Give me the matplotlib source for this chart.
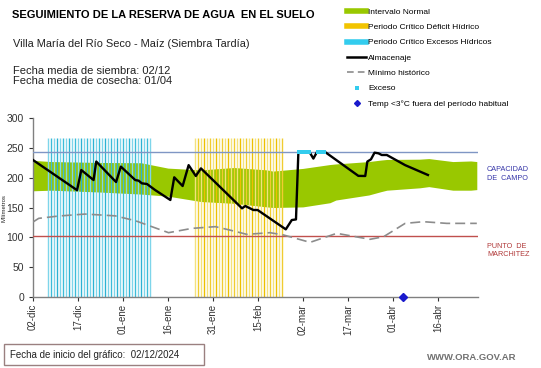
import matplotlib
matplotlib.use("Agg")
import matplotlib.pyplot as plt
from matplotlib.lines import Line2D
from matplotlib.patches import Rectangle
import numpy as np

plt.rcParams['font.family'] = ['Liberation Sans', 'DejaVu Sans']

# ---------------- data ----------------
tick_days = [0, 15, 30, 45, 60, 75, 90, 105, 120, 135]
tick_labels = ['02-dic', '17-dic', '01-ene', '16-ene', '31-ene', '15-feb',
               '02-mar', '17-mar', '01-abr', '16-abr']

capacidad_campo = 243
punto_marchitez = 102

# Intervalo normal (band)
band_days  = [0, 6, 22, 36, 45, 56, 67, 78, 80, 90, 99, 101, 112, 116, 118, 129, 132, 140, 146, 148]
band_upper = [229, 227, 225.5, 225, 216, 213, 217, 213, 211, 215.5, 222, 223, 227, 229.5, 230.5, 231, 232, 227, 228, 227]
band_lower = [178, 179, 176, 172.5, 169, 160, 157, 151, 150, 151, 158, 162.5, 171, 176.5, 179, 183, 185, 179, 179, 180]

# Almacenaje
alm_days = [0, 14.7, 16.1, 20.2, 21.1, 27.7, 29.3, 34.1, 35.2, 36.3, 38.0, 40.8,
            45.8, 47.1, 49.9, 51.9, 54.3, 56.0, 69.7, 70.8, 73.5, 74.9, 84.3,
            86.3, 87.7, 88.5, 92.2, 93.5, 94.7, 97.4, 108.5, 110.8, 111.5, 112.7,
            113.9, 115.2, 116.3, 118.0, 124.1, 131.7]
alm_vals = [229.6, 179, 212.8, 196, 227, 192.7, 218.5, 196, 195, 190.5, 189.4, 179,
            162.6, 200.6, 186, 221, 202.8, 215.6, 148.6, 152.5, 145.8, 145.8, 113.4,
            129, 130, 243, 243, 232, 243, 243, 203, 202.8, 227, 230.7,
            241.9, 240.8, 238, 238, 221, 204.5]

# Minimo historico
min_days = [0, 1.9, 8.5, 17.4, 27.4, 34.1, 45.2, 53.0, 60.8, 65.8, 71.3, 79.0,
            83.5, 92.4, 101.3, 112.4, 116.9, 124.1, 130.2, 138.0, 148]
min_vals = [125.7, 131.8, 135.7, 139, 136, 127.9, 107.8, 115, 117.9, 112, 105, 107.8,
            104, 91.6, 106.7, 96.7, 101, 123.4, 126.2, 123.4, 123.4]

# Periodos criticos (one bar per day)
exceso_hidrico_days = list(range(5, 40))
deficit_hidrico_days = list(range(54, 84))
periodo_altura = 267

# Exceso points (on capacity)
exceso_days = [88.7, 89.4, 90.1, 90.8, 91.5, 92.1, 95.0, 95.7, 96.4, 97.1]
exceso_vals = [243] * len(exceso_days)

# Temp < 3 C fuera del periodo habitual
temp_days = [123.4]
temp_vals = [0]

# ---------------- figure ----------------
W, H = 541, 368
fig = plt.figure(figsize=(W / 100, H / 100), dpi=100)
ax = fig.add_axes([33 / W, 1 - 297 / H, (478 - 33) / W, (297 - 118) / H])

green = '#99c800'
cyan_cols = ['#7ed5ea', '#3cbcd8', '#7ed5ea', '#2cb2d2']
yel_cols = ['#f4e27c', '#f0cc30', '#f4e27c', '#ecc000']

ax.fill_between(band_days, band_lower, band_upper, color=green, lw=0, zorder=1)

ax.vlines(exceso_hidrico_days, 0, periodo_altura,
          colors=[cyan_cols[i % 4] for i in range(len(exceso_hidrico_days))],
          lw=1.0, zorder=2)
ax.vlines(deficit_hidrico_days, 0, periodo_altura,
          colors=[yel_cols[i % 4] for i in range(len(deficit_hidrico_days))],
          lw=1.0, zorder=2)

ax.axhline(capacidad_campo, color='#7f96c4', lw=1.0, zorder=3)
ax.axhline(punto_marchitez, color='#c0504d', lw=1.0, zorder=3)

ax.plot(min_days, min_vals, color='#8c8c8c', lw=1.2, dashes=(6, 3), zorder=4)
ax.plot(alm_days, alm_vals, color='black', lw=1.7, zorder=5)
ax.plot(exceso_days, exceso_vals, ls='none', marker='s', ms=2.8, mew=0, color='#33ccee', zorder=6)
ax.plot(temp_days, temp_vals, ls='none', marker='D', ms=4, color='#1a1acc', zorder=7,
        clip_on=False)

ax.set_xlim(0, 148.4)
ax.set_ylim(0, 300)
ax.set_yticks([0, 50, 100, 150, 200, 250, 300])
ax.set_xticks(tick_days)
ax.set_xticklabels(tick_labels, rotation=90, fontsize=7, color='#333333')
ax.tick_params(axis='y', labelsize=7.5, colors='#333333', length=3, width=0.8)
ax.tick_params(axis='x', length=3, width=0.8, colors='#333333', pad=2)
for s in ['top', 'right']:
    ax.spines[s].set_visible(False)
for s in ['left', 'bottom']:
    ax.spines[s].set_color('#808080')
    ax.spines[s].set_linewidth(1.0)
ax.set_facecolor('white')

fig.text(4.5 / W, 1 - 208 / H, 'Milímetros', rotation=90, fontsize=4.3, va='center', ha='center',
         color='#222222')

# titles
fig.text(12 / W, 1 - 15 / H, 'SEGUIMIENTO DE LA RESERVA DE AGUA  EN EL SUELO', fontsize=8,
         fontweight='bold', va='center', ha='left')
fig.text(13 / W, 1 - 44 / H, 'Villa María del Río Seco - Maíz (Siembra Tardía)', fontsize=7.9,
         va='center', ha='left', color='#222222')
fig.text(13 / W, 1 - 70.5 / H, 'Fecha media de siembra: 02/12', fontsize=8,
         va='center', ha='left', color='#222222')
fig.text(13 / W, 1 - 81.5 / H, 'Fecha media de cosecha: 01/04', fontsize=8,
         va='center', ha='left', color='#222222')

# right labels
fig.text(487 / W, 1 - 170 / H, 'CAPACIDAD', fontsize=5.2, color='#3535a8', va='center')
fig.text(487 / W, 1 - 179 / H, 'DE  CAMPO', fontsize=5.2, color='#3535a8', va='center')
fig.text(487 / W, 1 - 246.5 / H, 'PUNTO  DE', fontsize=5.2, color='#b03838', va='center')
fig.text(487 / W, 1 - 255 / H, 'MARCHITEZ', fontsize=5.2, color='#b03838', va='center')

# legend
handles = [
    Line2D([], [], color=green, lw=4),
    Line2D([], [], color='#f2c400', lw=4),
    Line2D([], [], color='#33ccee', lw=4),
    Line2D([], [], color='black', lw=1.8),
    Line2D([], [], color='#8c8c8c', lw=1.2, dashes=(4, 2.5)),
    Line2D([], [], ls='none', marker='s', ms=2.2, mew=0, color='#33ccee'),
    Line2D([], [], ls='none', marker='D', ms=3, color='#1a1acc'),
]
labels = ['Intervalo Normal', 'Periodo Crítico Déficit Hídrico', 'Periodo Crítico Excesos Hídricos',
          'Almacenaje', 'Mínimo histórico', 'Exceso', 'Temp <3°C fuera del período habitual']
leg = fig.legend(handles, labels, loc='upper left', bbox_to_anchor=(347 / W, 1 - 8 / H),
                 frameon=False, fontsize=6, labelspacing=0.9, handlelength=2.3,
                 handletextpad=0.25, borderaxespad=0, borderpad=0)

# bottom info box
fig.add_artist(Rectangle((4 / W, 1 - 365 / H), 200 / W, 21 / H, transform=fig.transFigure,
                         fill=False, edgecolor='#9a8080', lw=1.0))
fig.text(10 / W, 1 - 354.5 / H, 'Fecha de inicio del gráfico:  02/12/2024', fontsize=7,
         va='center', ha='left', color='#222222')
fig.text(516 / W, 1 - 358 / H, 'WWW.ORA.GOV.AR', fontsize=6.8, fontweight='bold',
         va='center', ha='right', color='#707070')

fig.savefig('out.png', dpi=100, facecolor='white')
